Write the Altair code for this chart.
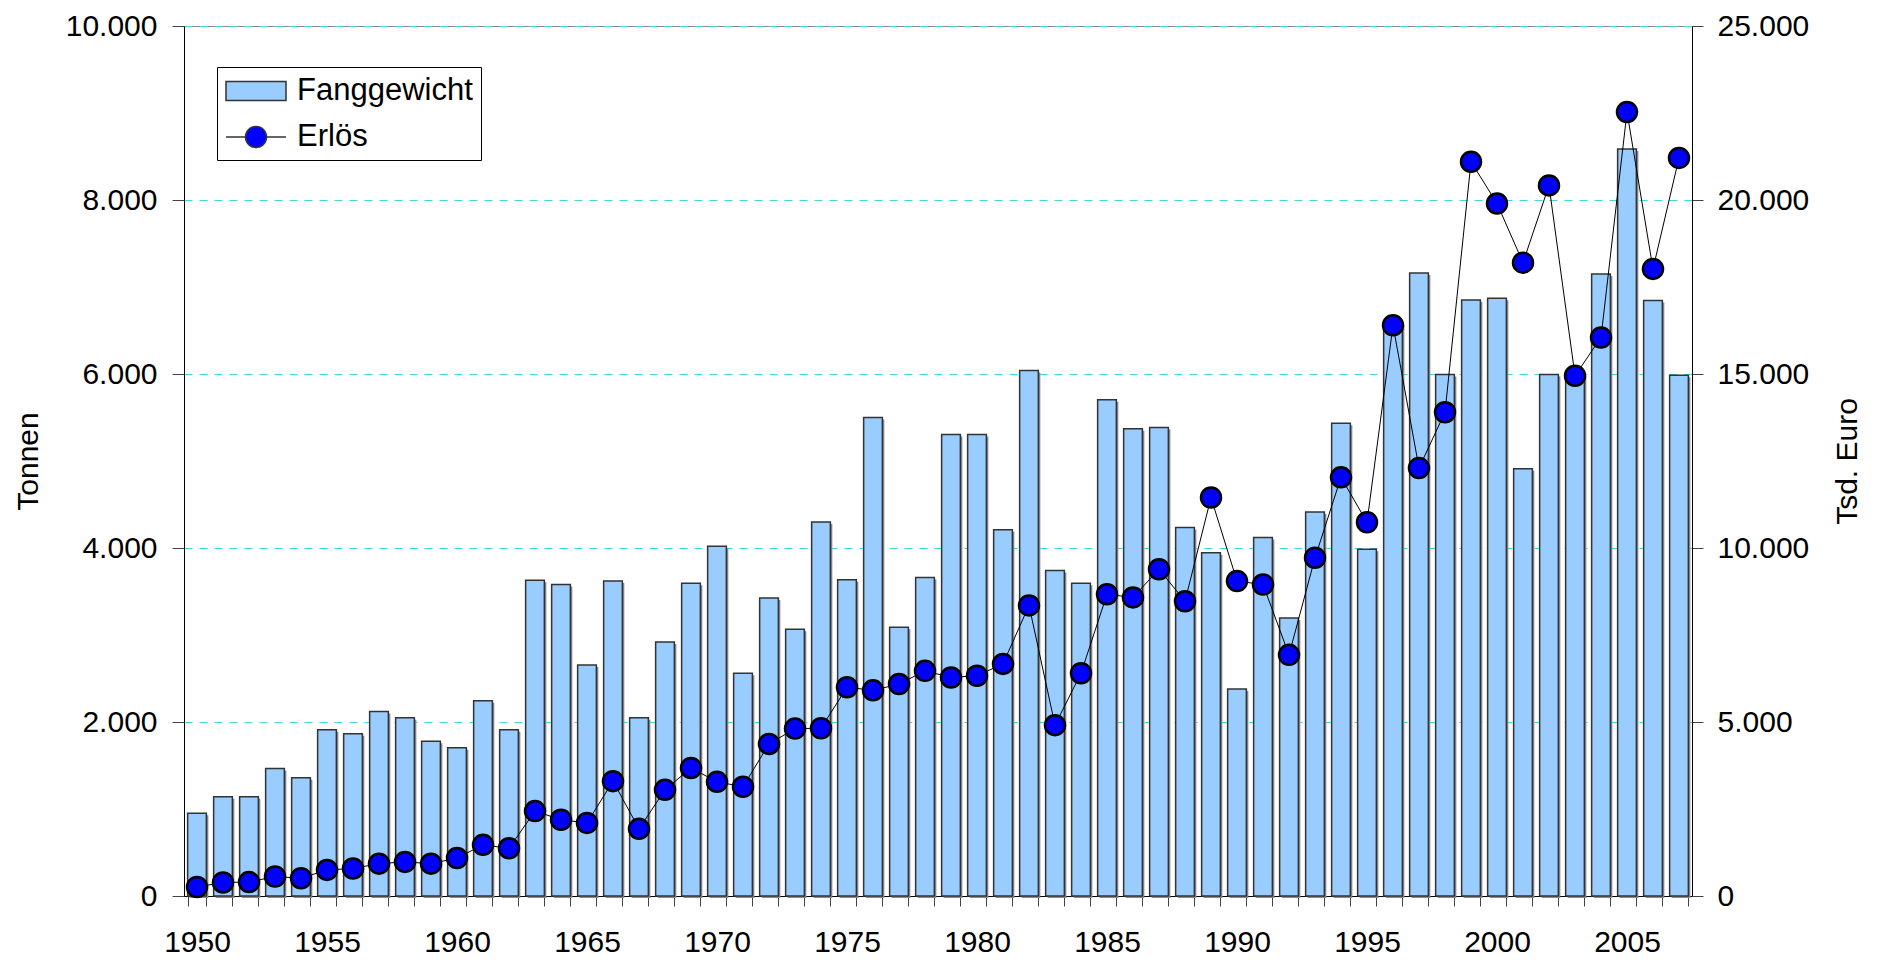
import altair as alt
import pandas as pd

years = list(range(1950, 2008))

fanggewicht = [
    950, 1140, 1140, 1465, 1360, 1910, 1865, 2120, 2050, 1780,
    1705, 2245, 1910, 3630, 3580, 2655, 3620, 2050, 2920, 3595,
    4020, 2560, 3425, 3065, 4300, 3635, 5500, 3090, 3660, 5305,
    5305, 4210, 6040, 3740, 3595, 5705, 5370, 5385, 4235, 3945,
    2380, 4120, 3195, 4415, 5435, 3985, 6580, 7160, 5995, 6850,
    6870, 4910, 5995, 6000, 7150, 8585, 6845, 5985,
]

erloes = [
    260, 390, 400, 560, 510, 750, 790, 930, 980, 930,
    1090, 1470, 1370, 2440, 2190, 2100, 3300, 1930, 3050, 3680,
    3280, 3140, 4370, 4810, 4820, 6000, 5910, 6090, 6470, 6280,
    6330, 6670, 8350, 4910, 6400, 8670, 8580, 9390, 8470, 11450,
    9050, 8950, 6930, 9720, 12030, 10740, 16400, 12300, 13900, 21100,
    19900, 18200, 20420, 14950, 16050, 22530, 18020, 21210,
]

series_names = ["Fanggewicht", "Erlös"]
series_colors = ["#99CCFF", "#0000FF"]

df = pd.DataFrame({"year": years, "fang": fanggewicht, "erloes": erloes})
legend_df = pd.DataFrame({"series": series_names})

FONT = "Liberation Sans"
FS = 30
thousands = "replace(format(datum.value, ','), ',', '.')"

rect_path = "M-2,-0.633H2V0.633H-2Z"
erl_path = ("M-2,0H-0.7M0.7,0H2M-0.7,0A0.7,0.7,0,1,0,0.7,0"
            "A0.7,0.7,0,1,0,-0.7,0Z")

fill_scale = alt.Scale(domain=series_names, range=series_colors)
shape_scale = alt.Scale(domain=series_names, range=[rect_path, erl_path])

legend = alt.Legend(
    title=None,
    orient="none",
    legendX=33,
    legendY=41,
    labelFont=FONT,
    labelFontSize=31,
    labelColor="black",
    labelLimit=500,
    fillColor="white",
    strokeColor="black",
    padding=8,
    symbolSize=900,
    symbolOffset=15,
    labelOffset=25,
    rowPadding=15,
    symbolStrokeColor="black",
    symbolStrokeWidth=1.5,
    symbolOpacity=1,
)

x_enc = alt.X(
    "year:O",
    scale=alt.Scale(paddingInner=0.28, paddingOuter=0.14),
    axis=alt.Axis(
        title=None,
        labelExpr="datum.value % 5 === 0 ? datum.label : ''",
        labelAngle=0,
        labelOverlap=False,
        tickBand="extent",
        tickSize=10,
        tickColor="#444",
        domainColor="black",
        labelPadding=21,
        labelFont=FONT,
        labelFontSize=FS,
        labelColor="black",
        grid=False,
    ),
)

y_left = alt.Y(
    "fang:Q",
    scale=alt.Scale(domain=[0, 10000], nice=False),
    axis=alt.Axis(
        title="Tonnen",
        orient="left",
        values=[0, 2000, 4000, 6000, 8000, 10000],
        labelExpr=thousands,
        grid=True,
        gridColor="#40D8D8",
        gridDash=[8, 7],
        gridWidth=1,
        tickSize=12,
        tickColor="#444",
        domainColor="black",
        labelPadding=15,
        labelFont=FONT,
        labelFontSize=FS,
        labelColor="black",
        titleFont=FONT,
        titleFontSize=FS,
        titleFontWeight="normal",
        titleColor="black",
        titlePadding=22,
    ),
)

shadow = alt.Chart(df).mark_bar(
    fill="#8a8a8a", xOffset=2, yOffset=2, y2Offset=0
).encode(x=x_enc, y=y_left)

bars = alt.Chart(df).mark_bar(stroke="#333", strokeWidth=1.5).encode(
    x=x_enc,
    y=y_left,
    fill=alt.datum("Fanggewicht"),
)

y_right = alt.Y(
    "erloes:Q",
    scale=alt.Scale(domain=[0, 25000], nice=False),
    axis=alt.Axis(
        title="Tsd. Euro",
        orient="right",
        values=[0, 5000, 10000, 15000, 20000, 25000],
        labelExpr=thousands,
        grid=False,
        tickSize=11,
        tickColor="#444",
        domainColor="black",
        labelPadding=14,
        labelFont=FONT,
        labelFontSize=FS,
        labelColor="black",
        titleFont=FONT,
        titleFontSize=FS,
        titleFontWeight="normal",
        titleColor="black",
        titleAngle=270,
        titlePadding=54,
    ),
)

line = alt.Chart(df).mark_line(stroke="black", strokeWidth=1).encode(
    x=x_enc,
    y=y_right,
)

points = alt.Chart(df).mark_point(
    filled=True, size=400, stroke="black", strokeWidth=2.5, opacity=1
).encode(
    x=x_enc,
    y=y_right,
    fill=alt.datum("Erlös"),
)

legend_layer = (
    alt.Chart(legend_df)
    .transform_filter("false")
    .mark_point(filled=True, stroke="black", strokeWidth=1.5, opacity=1)
    .encode(
        fill=alt.Fill("series:N", scale=fill_scale, legend=legend),
        shape=alt.Shape("series:N", scale=shape_scale, legend=legend),
    )
)

left = alt.layer(shadow, bars)
right = alt.layer(line, points, legend_layer)

chart = (
    alt.layer(left, right)
    .resolve_scale(y="independent")
    .properties(
        width=1508,
        height=870,
        autosize=alt.AutoSizeParams(type="none"),
        padding={"left": 176, "top": 18, "right": 170, "bottom": 61},
        background="white",
    )
    .configure_view(stroke="#888", strokeWidth=1)
)

chart.save("out.html", embed_options={"renderer": "svg", "actions": False})
